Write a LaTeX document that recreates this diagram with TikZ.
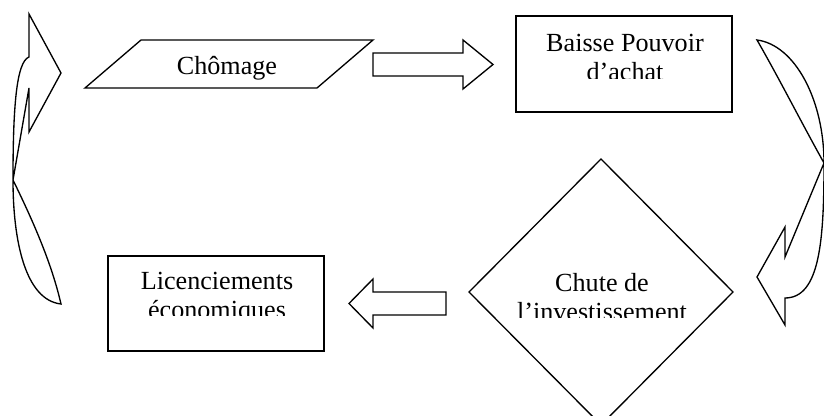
\documentclass[tikz,border=0pt]{standalone}
\usepackage{fontspec}
\setmainfont{Liberation Serif}
\usepackage{tikz}

\begin{document}
\begin{tikzpicture}
[x=0.75pt,y=-0.75pt,line join=miter,
  forme/.style={draw=black,line width=1pt},
  texte/.style={font=\fontsize{19.6}{21.75}\selectfont,align=center,inner sep=0pt,anchor=base}]
  \useasboundingbox (0,0) rectangle (824,416);

  % formes
  \draw[forme] (85,88) -- (317,88) -- (373,40) -- (141,40) -- cycle;
  \draw[forme] (516,16) rectangle (732,112);
  \draw[forme] (601,159) -- (733,292) -- (601,425) -- (469,292) -- cycle;
  \draw[forme] (108,256) rectangle (324,351);

  % textes (base = derniere ligne)
  \node[texte] (chomage) at (227,75) {Chômage};
  \begin{scope}
    \clip (516,16) rectangle (732,79);
    \node[texte] (baisse) at (625,81) {Baisse Pouvoir\\d’achat};
  \end{scope}
  \begin{scope}
    \clip (469,159) rectangle (733,318);
    \node[texte] (chute) at (602,321) {Chute de\\l’investissement};
  \end{scope}
  \begin{scope}
    \clip (108,256) rectangle (324,316);
    \node[texte] (licenc) at (217,319) {Licenciements\\économiques};
  \end{scope}

  % fleches pleines
  \draw[forme] (373,53) -- (463,53) -- (463,40) -- (493,64.5) -- (463,89) -- (463,76) -- (373,76) -- cycle;
  \draw[forme] (446,292) -- (373,292) -- (373,279) -- (349,303.5) -- (373,328) -- (373,315) -- (446,315) -- cycle;

  % fleches courbes
  \draw[forme] (29,57) -- (29,14) -- (61,73) -- (29,132) -- (29,88) -- (13,180)
    .. controls (35,225) and (52,265) .. (61,304)
    .. controls (25,300) and (13,240) .. (13,180)
    .. controls (13,110) and (16,62) .. (29,57) -- cycle;
  \draw[forme] (757,40) .. controls (795,45) and (824,100) .. (824,163)
    .. controls (824,240) and (820,298) .. (785,298) -- (785,325) -- (757,277)
    -- (785,227) -- (785,257) -- (824,163)
    .. controls (800,120) and (780,80) .. (757,40) -- cycle;

\end{tikzpicture}
\end{document}
